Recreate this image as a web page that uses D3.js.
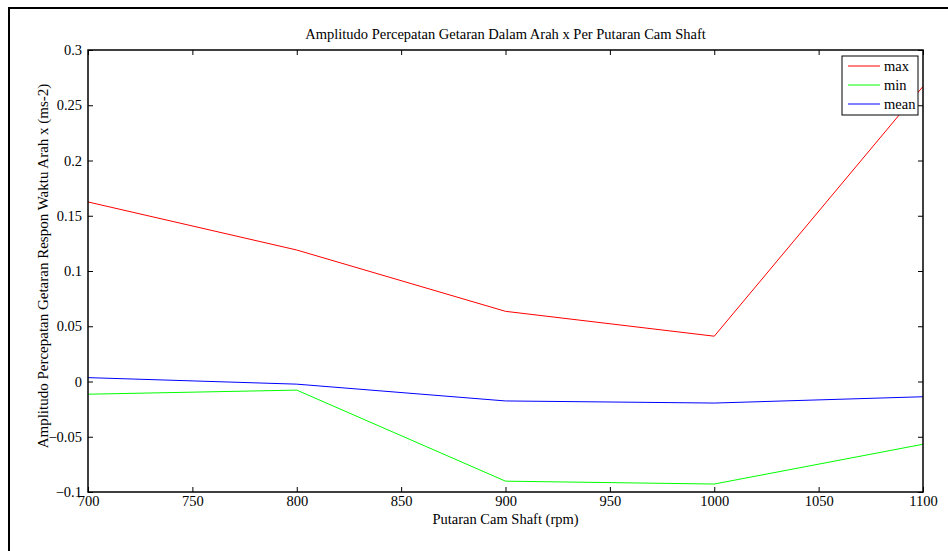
<!DOCTYPE html>
<html>
<head>
<meta charset="utf-8">
<script src="https://cdn.jsdelivr.net/npm/d3@7"></script>
<style>
  body { margin: 0; background: #fff; }
</style>
</head>
<body>
<svg id="chart"></svg>
<script>
// putaran cam shaft (rpm)
const rpm = [700, 800, 900, 1000, 1100];
const maxVals = [0.1625, 0.119, 0.0635, 0.041, 0.267];
const minVals = [-0.0115, -0.0078, -0.0902, -0.0928, -0.0568];
const meanVals = [0.0035, -0.0024, -0.0176, -0.0195, -0.0138];
const xTicks = [700, 750, 800, 850, 900, 950, 1000, 1050, 1100];
const yTicks = [-0.1, -0.05, 0, 0.05, 0.1, 0.15, 0.2, 0.25, 0.3];

const series = [
  {name: "max", values: maxVals, color: "#ff0000"},
  {name: "min", values: minVals, color: "#00ff00"},
  {name: "mean", values: meanVals, color: "#0000ff"}
];

const FONT = '"Liberation Serif", "Times New Roman", Times, "DejaVu Serif", serif';
const width = 948, height = 551;
const margin = {top: 50, right: 25, bottom: 59, left: 88};

const svg = d3.select('#chart')
  .attr('width', width)
  .attr('height', height)
  .attr('font-family', FONT);

// outer figure frame
svg.append('rect')
  .attr('x', 9).attr('y', 8)
  .attr('width', width + 20).attr('height', height + 20)
  .attr('fill', 'none')
  .attr('stroke', '#000')
  .attr('stroke-width', 2);

const x = d3.scaleLinear()
  .domain([700, 1100])
  .range([margin.left, width - margin.right]);

const y = d3.scaleLinear()
  .domain([-0.1, 0.3])
  .range([height - margin.bottom, margin.top]);

const fmt = d => d3.format('~g')(d);

// inward ticks on all four sides
svg.append('g')
  .attr('transform', `translate(0,${y(-0.1)})`)
  .call(d3.axisBottom(x).tickValues(xTicks).tickSize(-5).tickPadding(5).tickFormat(fmt))
  .call(g => g.select('.domain').remove())
  .call(g => g.selectAll('text').attr('dy', '0.6em'));

svg.append('g')
  .attr('transform', `translate(0,${y(0.3)})`)
  .call(d3.axisTop(x).tickValues(xTicks).tickSize(-5).tickFormat(''))
  .call(g => g.select('.domain').remove());

svg.append('g')
  .attr('transform', `translate(${x(700)},0)`)
  .call(d3.axisLeft(y).tickValues(yTicks).tickSize(-5).tickPadding(6).tickFormat(fmt))
  .call(g => g.select('.domain').remove());

svg.append('g')
  .attr('transform', `translate(${x(1100)},0)`)
  .call(d3.axisRight(y).tickValues(yTicks).tickSize(-5).tickFormat(''))
  .call(g => g.select('.domain').remove());

svg.selectAll('.tick line').attr('stroke', '#000');
svg.selectAll('g').attr('font-family', FONT).attr('font-size', 14.5);

// lines
const line = d3.line()
  .x((d, i) => x(rpm[i]))
  .y(d => y(d));

svg.selectAll('path.series')
  .data(series)
  .join('path')
  .attr('class', 'series')
  .attr('fill', 'none')
  .attr('stroke', d => d.color)
  .attr('stroke-width', 1)
  .attr('d', d => line(d.values));

// axes box
svg.append('rect')
  .attr('x', x(700)).attr('y', y(0.3))
  .attr('width', x(1100) - x(700))
  .attr('height', y(-0.1) - y(0.3))
  .attr('fill', 'none')
  .attr('stroke', '#000')
  .attr('stroke-width', 1.5);

// title and labels
svg.append('text')
  .attr('x', (x(700) + x(1100)) / 2)
  .attr('y', 39)
  .attr('text-anchor', 'middle')
  .attr('font-size', 14.5)
  .text('Amplitudo Percepatan Getaran Dalam Arah x Per Putaran Cam Shaft');

svg.append('text')
  .attr('x', (x(700) + x(1100)) / 2)
  .attr('y', 524)
  .attr('text-anchor', 'middle')
  .attr('font-size', 14.5)
  .text('Putaran Cam Shaft (rpm)');

svg.append('text')
  .attr('transform', `translate(48,266) rotate(-90)`)
  .attr('text-anchor', 'middle')
  .attr('font-size', 15)
  .text('Amplitudo Percepatan Getaran Respon Waktu Arah x (ms-2)');

// legend
const legend = svg.append('g').attr('transform', 'translate(842,56)');
legend.append('rect')
  .attr('width', 76).attr('height', 59)
  .attr('fill', '#fff')
  .attr('stroke', '#000')
  .attr('stroke-width', 1);

const items = legend.selectAll('g.item')
  .data(series)
  .join('g')
  .attr('class', 'item')
  .attr('transform', (d, i) => `translate(0,${10 + i * 19})`);

items.append('line')
  .attr('x1', 6).attr('x2', 38)
  .attr('stroke', d => d.color)
  .attr('stroke-width', 1);

items.append('text')
  .attr('x', 42)
  .attr('dy', '0.35em')
  .attr('font-size', 14.5)
  .text(d => d.name);
</script>
</body>
</html>
